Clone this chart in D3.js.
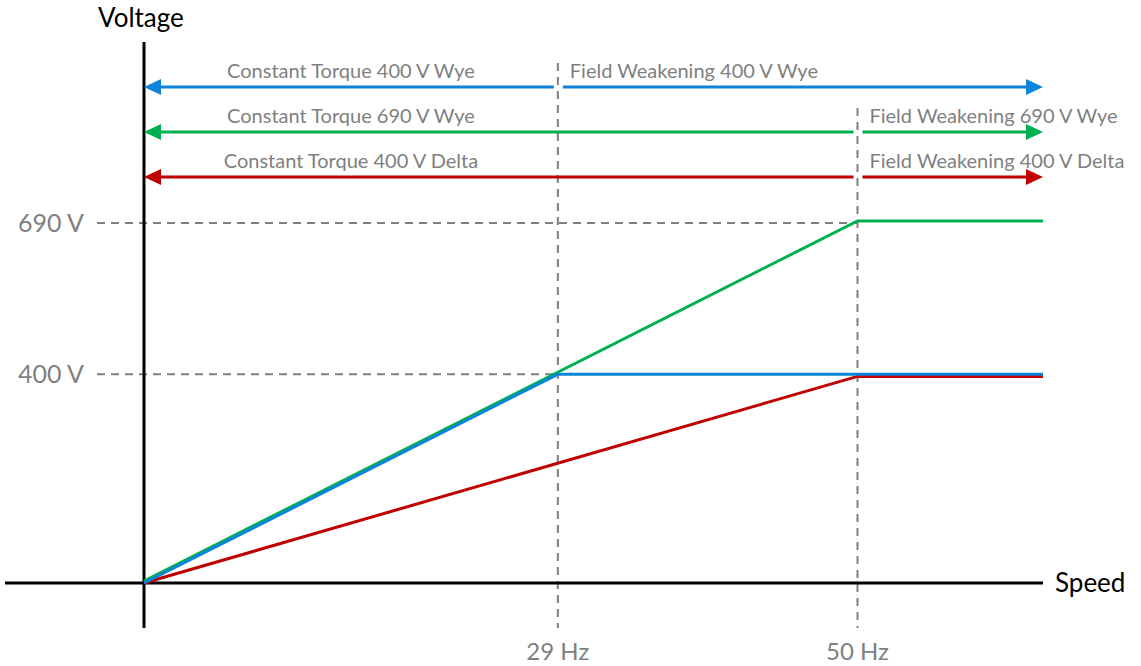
<!DOCTYPE html>
<html>
<head>
<meta charset="utf-8">
<script src="https://cdn.jsdelivr.net/npm/d3@7"></script>
<style>
body { margin: 0; background: #fff; }
text { font-family: Lato, "Open Sans", sans-serif; }
</style>
</head>
<body>
<svg id="chart" width="1141" height="666"></svg>
<script>
// values
var hzTicks = [29, 50]
var voltTicks = [400, 690]
var hzLabels = ["29 Hz", "50 Hz"]
var voltLabels = ["400 V", "690 V"]

var wye400 = [[0, 0], [29, 400], [63, 400]]
var wye690 = [[0, 0], [50, 690], [63, 690]]
var delta400 = [[0, 0], [50, 396], [63, 396]]

var torqueLabels = ["Constant Torque 400 V Wye", "Constant Torque 690 V Wye", "Constant Torque 400 V Delta"]
var weakLabels = ["Field Weakening 400 V Wye", "Field Weakening 690 V Wye", "Field Weakening 400 V Delta"]
var breakHz = [29, 50, 50]
var maxHz = 63

var colors = ["#0b84d9", "#00b050", "#c00000"]
var gray = "#7f7f7f"

var svg = d3.select("#chart")

var xScale = d3.scaleLinear().domain([0, maxHz]).range([144, 1043])
var yScale = d3.scaleLinear().domain([0, 690]).range([583, 223])

// dashed guides
svg.selectAll(".hguide")
    .data(voltTicks)
    .enter().append("line")
    .attr("x1", 97)
    .attr("x2", (d, i) => xScale(hzTicks[i]))
    .attr("y1", d => yScale(d))
    .attr("y2", d => yScale(d))
    .attr("stroke", gray).attr("stroke-width", 2).attr("stroke-dasharray", "8,6")

svg.selectAll(".vguide")
    .data(hzTicks)
    .enter().append("line")
    .attr("x1", d => xScale(d))
    .attr("x2", d => xScale(d))
    .attr("y1", (d, i) => i == 0 ? 63 : 108)
    .attr("y2", 628)
    .attr("stroke", gray).attr("stroke-width", 2).attr("stroke-dasharray", "8,6")

// axes
svg.append("line")
    .attr("x1", 5).attr("x2", 1043)
    .attr("y1", yScale(0)).attr("y2", yScale(0))
    .attr("stroke", "#000").attr("stroke-width", 3)
svg.append("line")
    .attr("x1", xScale(0)).attr("x2", xScale(0))
    .attr("y1", 42).attr("y2", 628)
    .attr("stroke", "#000").attr("stroke-width", 3)

svg.append("text").text("Voltage")
    .attr("x", 98).attr("y", 27)
    .attr("font-size", 26).attr("fill", "#000")
svg.append("text").text("Speed")
    .attr("x", 1055).attr("y", 592)
    .attr("font-size", 26).attr("fill", "#000")

svg.selectAll(".vlabel")
    .data(voltTicks)
    .enter().append("text")
    .text((d, i) => voltLabels[i])
    .attr("x", 18)
    .attr("y", d => yScale(d) + 9)
    .attr("font-size", 25).attr("fill", gray)

svg.selectAll(".hlabel")
    .data(hzTicks)
    .enter().append("text")
    .text((d, i) => hzLabels[i])
    .attr("x", d => xScale(d))
    .attr("y", 660)
    .attr("text-anchor", "middle")
    .attr("font-size", 24).attr("fill", gray)

// voltage curves
var line = d3.line()
    .x(d => xScale(d[0]))
    .y(d => yScale(d[1]))

var curves = [wye690, delta400, wye400]
var curveColors = [colors[1], colors[2], colors[0]]
svg.selectAll(".curve")
    .data(curves)
    .enter().append("path")
    .attr("d", line)
    .attr("fill", "none")
    .attr("transform", (d, i) => i == 0 ? "translate(0,-2)" : null)
    .attr("stroke", (d, i) => curveColors[i])
    .attr("stroke-width", 3)

// region arrows
var rowY = [87, 132, 177]
function arrowHead(x, y, dir) {
    return "M" + x + "," + y + "L" + (x - dir * 17) + "," + (y - 8) + "L" + (x - dir * 17) + "," + (y + 8) + "Z"
}

rowY.forEach((y, i) => {
    var xb = xScale(breakHz[i])
    var x0 = xScale(0), x1 = xScale(maxHz)
    var g = svg.append("g")
    g.append("line").attr("x1", x0 + 14).attr("x2", xb - 4).attr("y1", y).attr("y2", y)
        .attr("stroke", colors[i]).attr("stroke-width", 3)
    g.append("line").attr("x1", xb + 5).attr("x2", x1 - 14).attr("y1", y).attr("y2", y)
        .attr("stroke", colors[i]).attr("stroke-width", 3)
    g.append("path").attr("d", arrowHead(x0, y, -1)).attr("fill", colors[i])
    g.append("path").attr("d", arrowHead(x1, y, 1)).attr("fill", colors[i])

    g.append("text").text(torqueLabels[i])
        .attr("x", xScale(breakHz[0] / 2)).attr("y", y - 9)
        .attr("text-anchor", "middle")
        .attr("font-size", 20).attr("fill", gray)
    g.append("text").text(weakLabels[i])
        .attr("x", xb + 12).attr("y", y - 9)
        .attr("font-size", 20).attr("fill", gray)
})
</script>
</body>
</html>
